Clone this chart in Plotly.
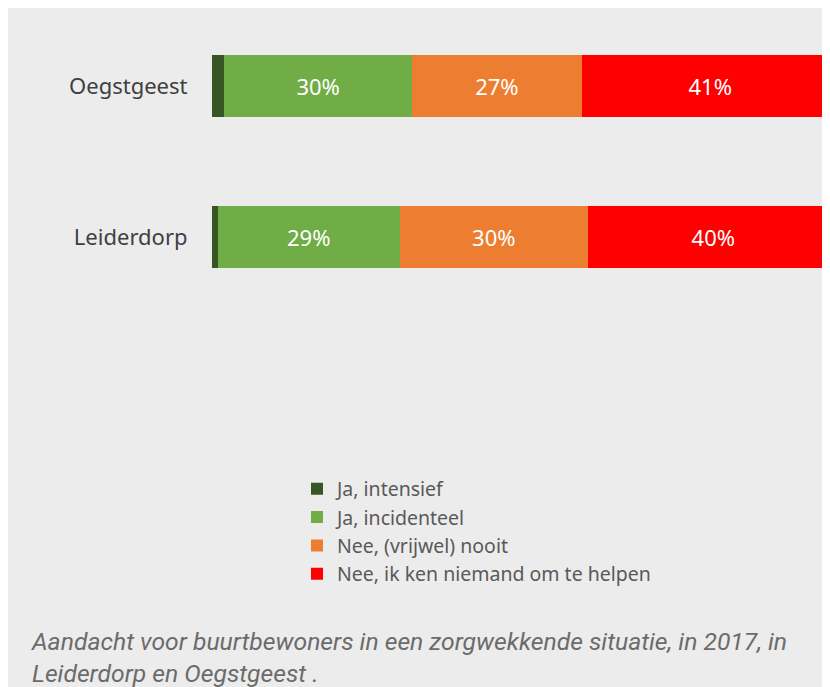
import plotly.graph_objects as go

# Page body has an 8px margin; figure coordinates = page pixels - 8
OFF = 8
W, H = 822, 679

categories = ["Leiderdorp", "Oegstgeest"]
series_names = ["Ja, intensief", "Ja, incidenteel", "Nee, (vrijwel) nooit", "Nee, ik ken niemand om te helpen"]
intensief = [1, 2]
incidenteel = [29, 30]
nooit = [30, 27]
niemand = [40, 41]
colors = ["#375623", "#70ad47", "#ed7d31", "#ff0000"]
caption = "Aandacht voor buurtbewoners in een zorgwekkende situatie, in 2017, in<br>Leiderdorp en Oegstgeest ."

def px_x(p):
    return (p - OFF) / W

def px_y(p):
    return 1 - (p - OFF) / H

fig = go.Figure()
values = [intensief, incidenteel, nooit, niemand]
for i, (name, vals) in enumerate(zip(series_names, values)):
    txt = ["" if i == 0 else f"{v}%" for v in vals]
    fig.add_trace(go.Bar(
        y=categories, x=vals, name=name, orientation="h",
        marker=dict(color=colors[i], line=dict(width=0)),
        text=txt, textposition="inside" if i > 0 else "none",
        insidetextanchor="middle",
        textfont=dict(color="white", size=22, family="Noto Sans"),
        hoverinfo="skip",
    ))

fig.update_layout(
    width=W, height=H,
    margin=dict(l=0, r=0, t=0, b=0),
    paper_bgcolor="#ececec",
    plot_bgcolor="#ececec",
    barmode="stack",
    bargap=0.59,
    font=dict(family="Noto Sans", color="#404040"),
    xaxis=dict(domain=[px_x(211.5), 1], range=[0, 98.6], showgrid=False, zeroline=False,
               showticklabels=False, showline=False, fixedrange=True),
    yaxis=dict(domain=[px_y(312.5), px_y(10.5)], range=[-0.5, 1.5], showgrid=False,
               zeroline=False, showline=False, tickfont=dict(size=22, color="#404040"),
               ticklabelstandoff=23, fixedrange=True),
    legend=dict(x=px_x(297), y=px_y(469.5), xanchor="left", yanchor="top",
                traceorder="normal", bgcolor="rgba(0,0,0,0)",
                font=dict(size=19.5, color="#595959", family="Noto Sans")),
    annotations=[dict(text="<i>" + caption + "</i>", xref="paper", yref="paper",
                      x=px_x(29), y=px_y(625), xanchor="left", yanchor="top", align="left",
                      showarrow=False, font=dict(size=24.7, color="#6b6b6b", family="Roboto"))],
)

fig.write_html("out.html")
